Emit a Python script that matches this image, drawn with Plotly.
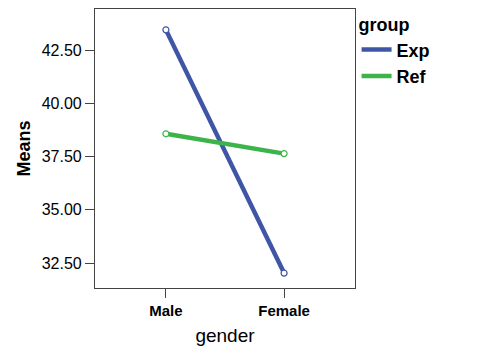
import plotly.graph_objects as go

categories = ["Male", "Female"]
exp_means = [43.45, 32.03]
ref_means = [38.57, 37.64]
y_ticks = [32.5, 35.0, 37.5, 40.0, 42.5]
y_tick_labels = ["32.50", "35.00", "37.50", "40.00", "42.50"]

font_family = "Liberation Sans, Arial, sans-serif"
exp_color = "#3F56A6"
ref_color = "#3CB449"

fig = go.Figure()
for name, vals, col in [("Exp", exp_means, exp_color), ("Ref", ref_means, ref_color)]:
    fig.add_trace(go.Scatter(
        x=categories, y=vals, name="<b>" + name + "</b>", mode="lines",
        line=dict(color=col, width=4.5), legendgroup=name,
    ))
    fig.add_trace(go.Scatter(
        x=categories, y=vals, mode="markers", showlegend=False, legendgroup=name,
        marker=dict(symbol="circle", size=6, color="white", line=dict(color=col, width=1.2)),
        hoverinfo="skip",
    ))

fig.update_layout(
    width=471, height=351,
    margin=dict(l=87, r=124, t=0, b=71),
    paper_bgcolor="white", plot_bgcolor="white",
    font=dict(family=font_family, color="black"),
    showlegend=True,
    legend=dict(
        title=dict(text="<b>group</b>", font=dict(size=18, family=font_family)),
        x=1.006, xanchor="left", y=1.005, yanchor="top",
        font=dict(size=18, family=font_family),
        itemwidth=30, tracegroupgap=0,
        bgcolor="rgba(0,0,0,0)",
    ),
    xaxis=dict(
        type="category", range=[-0.6, 1.6],
        showline=True, linecolor="#444", linewidth=1.2, mirror=True,
        ticks="outside", ticklen=9, tickcolor="#444",
        tickfont=dict(size=15, family=font_family),
        tickprefix="<b>", ticksuffix="</b>",
        title=dict(text="gender", font=dict(size=19), standoff=10),
        showgrid=False, zeroline=False,
    ),
    yaxis=dict(
        range=[31.33, 44.43],
        tickvals=y_ticks, ticktext=y_tick_labels,
        showline=True, linecolor="#444", linewidth=1.2, mirror=True,
        ticks="outside", ticklen=9, tickcolor="#444",
        tickfont=dict(size=16, family=font_family),
        title=dict(text="<b>Means</b>", font=dict(size=18), standoff=6),
        showgrid=False, zeroline=False,
    ),
)

fig.write_html("out.html")
